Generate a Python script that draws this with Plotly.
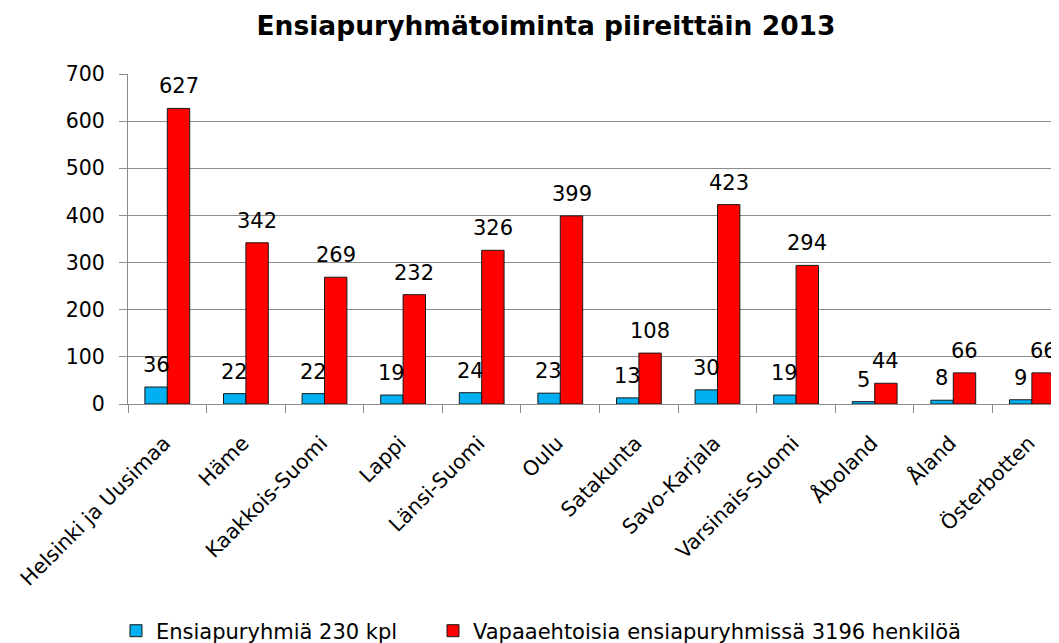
import plotly.graph_objects as go

categories = ["Helsinki ja Uusimaa", "Häme", "Kaakkois-Suomi", "Lappi", "Länsi-Suomi",
              "Oulu", "Satakunta", "Savo-Karjala", "Varsinais-Suomi", "Åboland",
              "Åland", "Österbotten"]
groups = [36, 22, 22, 19, 24, 23, 13, 30, 19, 5, 8, 9]
volunteers = [627, 342, 269, 232, 326, 399, 108, 423, 294, 44, 66, 66]
series_names = ["Ensiapuryhmiä 230 kpl", "Vapaaehtoisia ensiapuryhmissä 3196 henkilöä"]
title_text = "Ensiapuryhmätoiminta piireittäin 2013"

FONT = "DejaVu Sans, Verdana, sans-serif"
BLUE = "#00B0F0"
RED = "#FF0000"
GRID = "#8C8C8C"

# the page body has an 8 px margin, so the figure is drawn 8 px smaller
W, H = 1051, 635

fig = go.Figure()
fig.add_trace(go.Bar(x=categories, y=groups, name=series_names[0], legendwidth=272,
                     marker=dict(color=BLUE, line=dict(color="#1a1a1a", width=1))))
fig.add_trace(go.Bar(x=categories, y=volunteers, name=series_names[1],
                     marker=dict(color=RED, line=dict(color="#1a1a1a", width=1))))

annotations = []
for vals, shift in ((groups, -11.3), (volunteers, 11.3)):
    for c, v in zip(categories, vals):
        annotations.append(dict(x=c, y=v, xref="x", yref="y", text=str(v), showarrow=False,
                                xshift=shift, yshift=22, yanchor="middle",
                                font=dict(family=FONT, size=21, color="#000")))

fig.update_layout(
    width=W, height=H,
    margin=dict(l=120, r=0, t=66, b=239, autoexpand=False),
    paper_bgcolor="white", plot_bgcolor="white",
    barmode="group", bargap=0.43, bargroupgap=0,
    title=dict(text="<b>" + title_text + "</b>", x=538 / W, xref="container", xanchor="center",
               y=1 - 18 / H, yref="container", yanchor="middle",
               font=dict(family=FONT, size=26.5, color="#000")),
    font=dict(family=FONT, size=21, color="#000"),
    annotations=annotations,
    showlegend=True,
    legend=dict(orientation="h", x=-0.0129, xanchor="left", y=-0.688, yanchor="middle",
                font=dict(family=FONT, size=21, color="#000"),
                itemwidth=30, traceorder="normal", bgcolor="rgba(0,0,0,0)"),
)
fig.update_xaxes(type="category", range=[-0.5, 11.345], tickangle=-45, automargin=False,
                 showline=True, linecolor=GRID, linewidth=1,
                 ticks="outside", tickson="boundaries", ticklen=8, tickcolor=GRID,
                 ticklabelstandoff=18, ticklabelshift=-3,
                 tickfont=dict(family=FONT, size=20.5, color="#000"), showgrid=False)
fig.update_yaxes(range=[0, 700], dtick=100, showgrid=True, gridcolor=GRID, gridwidth=1,
                 automargin=False, showline=True, linecolor=GRID, linewidth=1,
                 ticks="outside", ticklen=8, tickcolor=GRID, zeroline=False,
                 ticklabelstandoff=10,
                 tickfont=dict(family=FONT, size=20.5, color="#000"))

fig.write_html("out.html")
